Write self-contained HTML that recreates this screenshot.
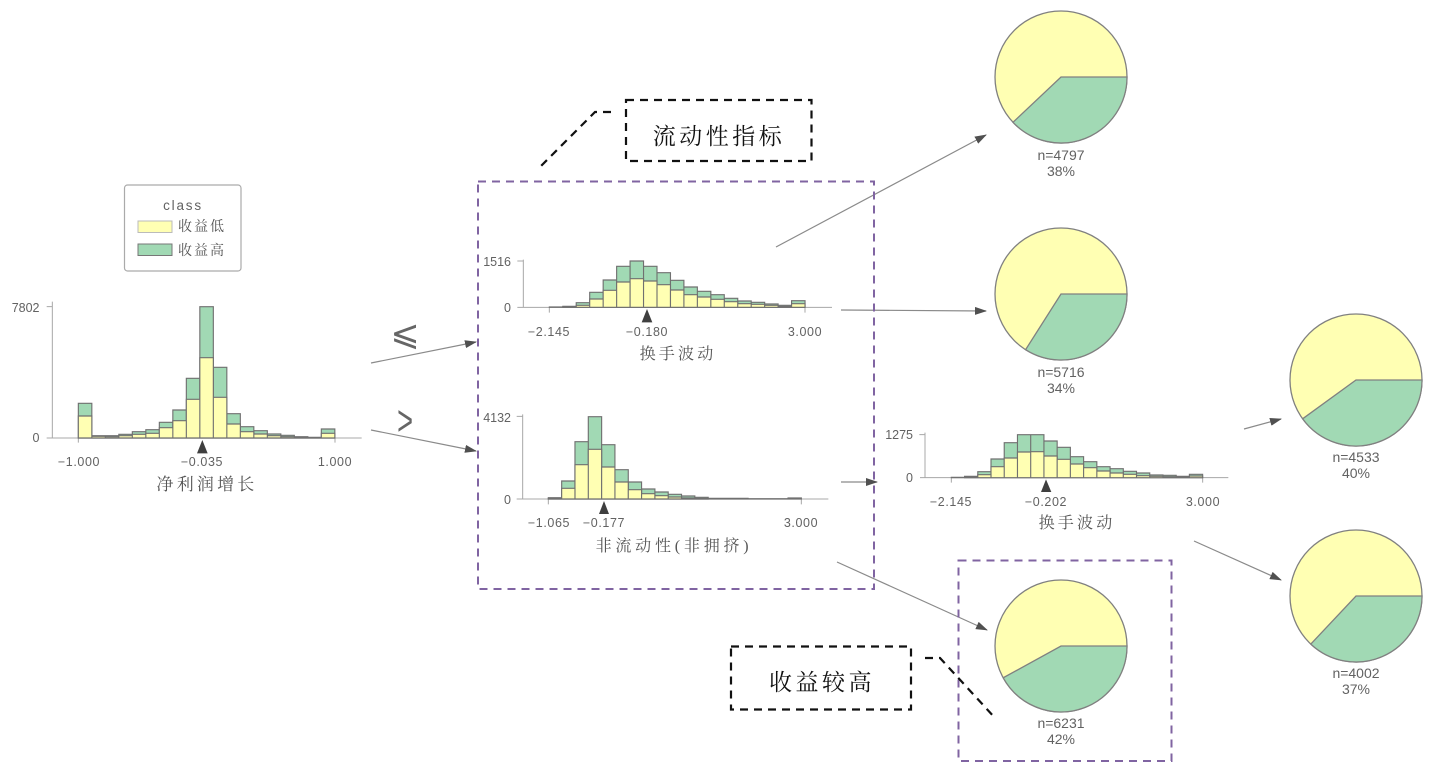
<!DOCTYPE html>
<html lang="zh">
<head>
<meta charset="utf-8">
<title>决策树</title>
<style>
html,body{margin:0;padding:0;background:#fff;width:1440px;height:765px;overflow:hidden}
svg{display:block;filter:blur(.35px)}
text{font-family:"Liberation Sans","Noto Sans CJK SC",sans-serif;fill:#626262}
.t{font-size:12.5px;text-anchor:middle;letter-spacing:.6px}
.e{font-size:12.5px;text-anchor:end}
.c{font-family:"Liberation Serif","Noto Serif CJK SC",serif;text-anchor:middle;font-size:16px;letter-spacing:3.2px;fill:#555}
.b{font-family:"Liberation Serif","Noto Serif CJK SC",serif;text-anchor:middle;font-size:23px;letter-spacing:3.5px;fill:#111}
.l{font-family:"Liberation Serif","Noto Serif CJK SC",serif;font-size:14px;letter-spacing:2px;fill:#555}
.n{font-size:14px;text-anchor:middle}
.g{fill:#a1d9b4}.y{fill:#ffffb3}
.g,.y{stroke:#707070;stroke-width:3.4}
.ax{stroke:#a8a8a8;stroke-width:3;fill:none}
.tri{fill:#3f3f3f}
.p{fill:none;stroke:#8064a2;stroke-width:2;stroke-dasharray:8 6}
.k{fill:none;stroke:#111;stroke-width:2.2;stroke-dasharray:8 6}
.a{stroke:#8a8a8a;stroke-width:1.2;fill:none;marker-end:url(#ah)}
.pie{stroke:#808080;stroke-width:1.3}
</style>
</head>
<body>
<svg width="1440" height="765" viewBox="0 0 1440 765" xmlns="http://www.w3.org/2000/svg">
<defs>
<marker id="ah" viewBox="0 0 12 8" refX="11" refY="4" markerWidth="12" markerHeight="8" markerUnits="userSpaceOnUse" orient="auto"><path d="M0 0L12 4L0 8z" fill="#505050"/></marker>
</defs>
<rect width="1440" height="765" fill="#fff"/>

<!-- legend -->
<rect x="124.5" y="185" width="116.500" height="86" rx="3" fill="#fff" stroke="#aaa" stroke-width="1.2"/>
<text x="183" y="210" style="font-size:13.500px;text-anchor:middle;letter-spacing:1.8px">class</text>
<rect x="138" y="221" width="34" height="11.500" fill="#ffffb3" stroke="#bbb" stroke-width="1"/>
<rect x="138" y="244" width="34" height="11.500" fill="#a1d9b4" stroke="#777" stroke-width="1"/>
<text class="l" x="178" y="231">收益低</text>
<text class="l" x="178" y="255">收益高</text>

<!-- chart 1 -->
<g transform="translate(0,290) scale(.33333)">
<path class="ax" d="M157 35V444M140 50H157M140 444H1085M235 444V458M1005 444V458"/>
<path class="g" d="M235 340h40.500V444h-40.500zM275.500 437h40.500V444h-40.500zM316 437h40.500V444h-40.500zM356.500 433h40.500V444h-40.500zM397 425h40.500V444h-40.500zM437.500 419h40.500V444h-40.500zM478 397h40.500V444h-40.500zM518.500 360h40.500V444h-40.500zM559 265h40.500V444h-40.500zM599.500 50h40.500V444h-40.500zM640 232h40.500V444h-40.500zM680.500 371h40.500V444h-40.500zM721 410h40.500V444h-40.500zM761.500 422h40.500V444h-40.500zM802 432h40.500V444h-40.500zM842.500 436h40.500V444h-40.500zM883 440h40.500V444h-40.500zM923.500 442h40.500V444h-40.500zM964 417h40.500V444h-40.500z"/>
<path class="y" d="M235 378h40.500V444h-40.500zM275.500 439h40.500V444h-40.500zM316 440h40.500V444h-40.500zM356.500 437h40.500V444h-40.500zM397 433h40.500V444h-40.500zM437.500 430h40.500V444h-40.500zM478 413h40.500V444h-40.500zM518.500 392h40.500V444h-40.500zM559 328h40.500V444h-40.500zM599.500 203h40.500V444h-40.500zM640 322h40.500V444h-40.500zM680.500 402h40.500V444h-40.500zM721 425h40.500V444h-40.500zM761.500 432h40.500V444h-40.500zM802 437h40.500V444h-40.500zM842.500 440h40.500V444h-40.500zM883 442h40.500V444h-40.500zM923.500 443h40.500V444h-40.500zM964 430h40.500V444h-40.500z"/>
<path class="tri" d="M607 450L623 490H591z"/>
</g>
<text class="e" x="39.500" y="312">7802</text>
<text class="e" x="39.500" y="442">0</text>
<text class="t" x="79" y="466">−1.000</text>
<text class="t" x="202" y="466">−0.035</text>
<text class="t" x="335" y="466">1.000</text>
<text class="c" x="207" y="490" style="font-size:17px">净利润增长</text>

<!-- chart 2 -->
<g transform="translate(480,245) scale(.33333)">
<path class="ax" d="M130 44V187M112 48H130M112 187H1056M208 187V203M975 187V203"/>
<path class="g" d="M208 186h40.400V187h-40.400zM248.400 184h40.400V187h-40.400zM288.700 173h40.400V187h-40.400zM329.100 142h40.400V187h-40.400zM369.500 105h40.400V187h-40.400zM409.900 64h40.400V187h-40.400zM450.200 48h40.400V187h-40.400zM490.600 64h40.400V187h-40.400zM531 83h40.400V187h-40.400zM571.300 106h40.400V187h-40.400zM611.700 126h40.400V187h-40.400zM652.100 139h40.400V187h-40.400zM692.400 149h40.400V187h-40.400zM732.800 160h40.400V187h-40.400zM773.200 168h40.400V187h-40.400zM813.600 172h40.400V187h-40.400zM853.900 177h40.400V187h-40.400zM894.300 181h40.400V187h-40.400zM934.700 167h40.400V187h-40.400z"/>
<path class="y" d="M248.400 186h40.400V187h-40.400zM288.700 181h40.400V187h-40.400zM329.100 162h40.400V187h-40.400zM369.500 136h40.400V187h-40.400zM409.900 111h40.400V187h-40.400zM450.200 101h40.400V187h-40.400zM490.600 108h40.400V187h-40.400zM531 119h40.400V187h-40.400zM571.300 135h40.400V187h-40.400zM611.700 149h40.400V187h-40.400zM652.100 156h40.400V187h-40.400zM692.400 163h40.400V187h-40.400zM732.800 170h40.400V187h-40.400zM773.200 176h40.400V187h-40.400zM813.600 178h40.400V187h-40.400zM853.900 181h40.400V187h-40.400zM894.300 184h40.400V187h-40.400zM934.700 176h40.400V187h-40.400z"/>
<path class="tri" d="M501 192L517 232H485z"/>
</g>
<text class="e" x="511" y="266">1516</text>
<text class="e" x="511" y="312">0</text>
<text class="t" x="549" y="336">−2.145</text>
<text class="t" x="647" y="336">−0.180</text>
<text class="t" x="805" y="336">3.000</text>
<text class="c" x="678" y="359">换手波动</text>

<!-- chart 3 -->
<g transform="translate(480,405) scale(.33333)">
<path class="ax" d="M128 28V282M110 34H128M110 282H1045M205 282V298M964 282V298"/>
<path class="g" d="M205 278h40V282h-40zM245 228h40V282h-40zM284.900 110h40V282h-40zM324.900 35h40V282h-40zM364.800 119h40V282h-40zM404.800 194h40V282h-40zM444.700 231h40V282h-40zM484.700 252h40V282h-40zM524.600 261h40V282h-40zM564.600 268h40V282h-40zM604.500 273h40V282h-40zM644.500 277h40V282h-40zM684.400 280h40V282h-40zM724.400 280h40V282h-40zM764.300 280h40V282h-40zM804.300 281h40V282h-40zM844.200 281h40V282h-40zM884.200 281h40V282h-40zM924.100 279h40V282h-40z"/>
<path class="y" d="M205 280h40V282h-40zM245 250h40V282h-40zM284.900 179h40V282h-40zM324.900 133h40V282h-40zM364.800 186h40V282h-40zM404.800 231h40V282h-40zM444.700 254h40V282h-40zM484.700 266h40V282h-40zM524.600 272h40V282h-40zM564.600 276h40V282h-40zM604.500 279h40V282h-40zM644.500 280h40V282h-40z"/>
<path class="tri" d="M372 288L387 327H357z"/>
</g>
<text class="e" x="511" y="422">4132</text>
<text class="e" x="511" y="504">0</text>
<text class="t" x="549" y="527">−1.065</text>
<text class="t" x="604" y="527">−0.177</text>
<text class="t" x="801" y="527">3.000</text>
<text class="c" x="674" y="551" style="letter-spacing:3.8px">非流动性(非拥挤)</text>

<!-- chart 4 -->
<g transform="translate(900,420) scale(.33333)">
<path class="ax" d="M75 38V173M58 44H75M60 173H985M154 173V188M908 173V188"/>
<path class="g" d="M154 172h39.700V173h-39.700zM193.700 169h39.700V173h-39.700zM233.400 155h39.700V173h-39.700zM273 117h39.700V173h-39.700zM312.700 68h39.700V173h-39.700zM352.400 44h39.700V173h-39.700zM392.100 44h39.700V173h-39.700zM431.800 63h39.700V173h-39.700zM471.400 82h39.700V173h-39.700zM511.100 110h39.700V173h-39.700zM550.800 125h39.700V173h-39.700zM590.500 140h39.700V173h-39.700zM630.200 146h39.700V173h-39.700zM669.800 154h39.700V173h-39.700zM709.500 159h39.700V173h-39.700zM749.200 165h39.700V173h-39.700zM788.900 166h39.700V173h-39.700zM828.600 169h39.700V173h-39.700zM868.200 163h39.700V173h-39.700z"/>
<path class="y" d="M193.700 171h39.700V173h-39.700zM233.400 164h39.700V173h-39.700zM273 140h39.700V173h-39.700zM312.700 114h39.700V173h-39.700zM352.400 96h39.700V173h-39.700zM392.100 95h39.700V173h-39.700zM431.800 108h39.700V173h-39.700zM471.400 118h39.700V173h-39.700zM511.100 132h39.700V173h-39.700zM550.800 143h39.700V173h-39.700zM590.500 153h39.700V173h-39.700zM630.200 159h39.700V173h-39.700zM669.800 163h39.700V173h-39.700zM709.500 167h39.700V173h-39.700zM749.200 169h39.700V173h-39.700zM788.900 170h39.700V173h-39.700zM828.600 171h39.700V173h-39.700zM868.200 168h39.700V173h-39.700z"/>
<path class="tri" d="M438 178L454 216H423z"/>
</g>
<text class="e" x="913" y="439">1275</text>
<text class="e" x="913" y="482">0</text>
<text class="t" x="951" y="506">−2.145</text>
<text class="t" x="1046" y="506">−0.202</text>
<text class="t" x="1203" y="506">3.000</text>
<text class="c" x="1077" y="528">换手波动</text>

<!-- pies -->
<circle class="pie" cx="1061" cy="77" r="66" fill="#ffffb3"/>
<path class="pie" d="M1061 77H1127A66 66 0 0 1 1013 122.300z" fill="#a1d9b4"/>
<text class="n" x="1061" y="160">n=4797</text><text class="n" x="1061" y="176">38%</text>

<circle class="pie" cx="1061" cy="294" r="66" fill="#ffffb3"/>
<path class="pie" d="M1061 294H1127A66 66 0 0 1 1025.600 349.700z" fill="#a1d9b4"/>
<text class="n" x="1061" y="377">n=5716</text><text class="n" x="1061" y="393">34%</text>

<circle class="pie" cx="1356" cy="380" r="66" fill="#ffffb3"/>
<path class="pie" d="M1356 380H1422A66 66 0 0 1 1302.600 418.800z" fill="#a1d9b4"/>
<text class="n" x="1356" y="462">n=4533</text><text class="n" x="1356" y="478">40%</text>

<circle class="pie" cx="1356" cy="596" r="66" fill="#ffffb3"/>
<path class="pie" d="M1356 596H1422A66 66 0 0 1 1310.800 644.100z" fill="#a1d9b4"/>
<text class="n" x="1356" y="678">n=4002</text><text class="n" x="1356" y="694">37%</text>

<circle class="pie" cx="1061" cy="646" r="66" fill="#ffffb3"/>
<path class="pie" d="M1061 646H1127A66 66 0 0 1 1003.200 677.800z" fill="#a1d9b4"/>
<text class="n" x="1061" y="728">n=6231</text><text class="n" x="1061" y="744">42%</text>

<!-- connectors -->
<path class="a" d="M371 363L476 342"/>
<path class="a" d="M371 430L476 451"/>
<path class="a" d="M776 247L986 135"/>
<path class="a" d="M841 310L986 311"/>
<path class="a" d="M841 482L877 482"/>
<path class="a" d="M837 562L987 630"/>
<path class="a" d="M1244 429L1281 419"/>
<path class="a" d="M1194 541L1281 580"/>

<!-- comparison signs -->
<text x="405" y="345" style="font-family:'DejaVu Sans',sans-serif;font-size:35px;font-weight:300;text-anchor:middle;fill:#666">⩽</text>
<text transform="translate(405,435) scale(.8,1.25)" x="0" y="0" style="font-size:34px;text-anchor:middle;fill:#666">&gt;</text>

<!-- dashed highlights -->
<rect class="p" x="478" y="181.500" width="396" height="407.500"/>
<rect class="p" x="958.500" y="560.500" width="213" height="200.500"/>
<rect class="k" x="626" y="100" width="185.500" height="61"/>
<rect class="k" x="731" y="646.500" width="180" height="63"/>
<path class="k" d="M611 112H595L538 169"/>
<path class="k" d="M925 658H940L996 719"/>
<text class="b" x="719" y="144">流动性指标</text>
<text class="b" x="822" y="690">收益较高</text>
</svg>
</body>
</html>
